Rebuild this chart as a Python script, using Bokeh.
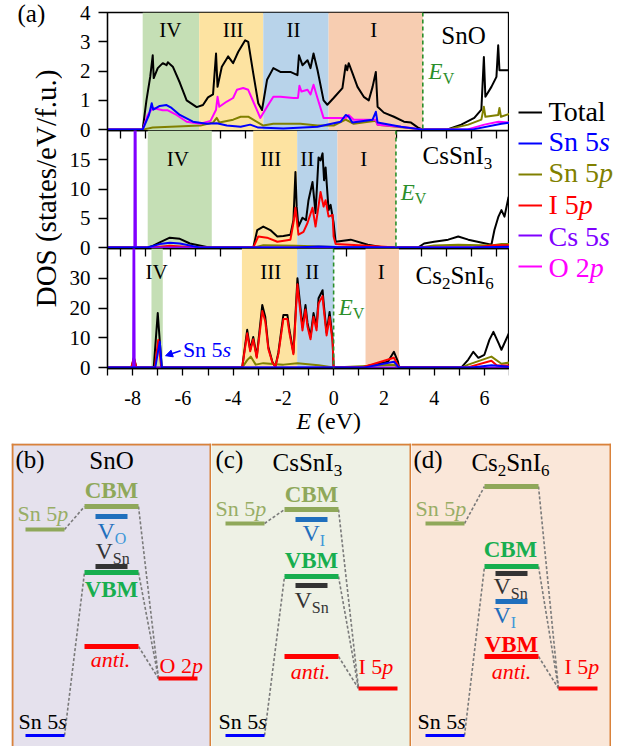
import math
from bokeh.plotting import figure
from bokeh.models import (Range1d, BoxAnnotation, Span, Label, Legend, LegendItem,
                          FixedTicker, Arrow, NormalHead, ColumnDataSource)
from bokeh.layouts import column, row
from bokeh.embed import file_html
from bokeh.resources import INLINE

FONT = "Liberation Serif"

# ======================= (a) DOS data =======================
# ---- SnO (states/eV/f.u.)
sno_total_e = [-9.0, -7.6, -7.45, -7.3, -7.2, -7.16, -7.0, -6.8, -6.65, -6.6,
               -6.4, -6.12, -5.85, -5.45, -5.2, -5.0, -4.8, -4.68, -4.62, -4.45,
               -4.2, -4.0, -3.8, -3.52, -3.4, -3.2, -3.0, -2.85, -2.65, -2.4,
               -2.12, -1.72, -1.44, -1.38, -1.24, -1.04, -0.92, -0.8, -0.64, -0.4,
               -0.25, 0.0, 0.35, 0.48, 0.54, 0.6, 0.75, 0.95, 1.2, 1.4,
               1.55, 1.68, 1.75, 2.0, 2.4, 2.8, 3.08, 3.36, 3.55, 4.5,
               5.08, 5.6, 5.88, 5.98, 6.04, 6.28, 6.48, 6.55, 6.6, 7.0]
sno_total = [0, 0, 1.0, 1.8, 2.54, 1.76, 2.1, 2.27, 2.2, 2.3,
             2.15, 1.6, 1.0, 0.77, 0.84, 1.1, 1.2, 2.6, 1.46, 2.15,
             2.5, 2.27, 2.65, 3.05, 3.0, 1.93, 0.9, 0.67, 1.7, 2.1,
             1.97, 1.97, 1.86, 2.54, 2.2, 2.37, 2.1, 2.6, 2.03, 1.0,
             0.85, 1.08, 1.42, 2.2, 2.03, 2.27, 1.93, 1.46, 1.12, 1.0,
             1.46, 1.97, 0.78, 0.58, 0.44, 0.27, 0.24, 0.07, 0, 0,
             0.17, 0.4, 0.68, 2.48, 1.12, 1.46, 1.8, 2.88, 2.03, 2.03]
sno_sn5s_e = [-9.0, -7.6, -7.35, -7.24, -7.18, -6.92, -6.65, -6.45, -6.12, -5.6,
              -5.05, -4.65, -4.25, -3.7, -3.32, -3.0, -2.0, -0.64, 0.28, 0.48,
              0.6, 0.75, 1.55, 1.68, 1.75, 2.68, 3.55, 5.5, 6.68, 7.0]
sno_sn5s = [0, 0, 0.5, 0.9, 0.68, 0.81, 0.84, 0.74, 0.5, 0.27,
            0.2, 0.22, 0.14, 0.1, 0.17, 0.07, 0.04, 0.1, 0.27, 0.5,
            0.44, 0.24, 0.34, 0.61, 0.24, 0.1, 0, 0, 0.2, 0.24]
sno_sn5p_e = [-9.0, -7.6, -7.2, -5.3, -4.8, -4.65, -4.55, -4.0, -3.7, -3.4,
              -3.2, -2.8, -2.4, -1.32, -0.64, 0.0, 0.48, 0.8, 1.68, 1.75,
              3.55, 4.5, 5.36, 5.88, 5.98, 6.04, 6.55, 6.6, 6.66, 7.0]
sno_sn5p = [0, 0, 0.07, 0.14, 0.24, 0.4, 0.24, 0.34, 0.44, 0.44,
            0.34, 0.14, 0.2, 0.2, 0.14, 0.14, 0.34, 0.2, 0.3, 0.17,
            0, 0, 0.17, 0.34, 0.78, 0.44, 0.5, 0.74, 0.44, 0.54]
sno_o2p_e = [-9.0, -7.6, -7.4, -7.2, -6.8, -6.6, -6.25, -5.85, -5.3, -4.9,
             -4.68, -4.62, -4.55, -4.25, -4.0, -3.85, -3.6, -3.4, -3.2, -2.92,
             -2.65, -2.4, -2.12, -1.6, -1.42, -1.36, -1.28, -1.04, -0.92, -0.8,
             -0.65, -0.4, 0.48, 0.6, 0.8, 1.68, 1.75, 2.68, 3.55, 5.3,
             6.0, 6.56, 7.0]
sno_o2p = [0, 0, 0.5, 0.74, 0.66, 0.66, 0.5, 0.27, 0.2, 0.3,
           0.68, 1.12, 0.78, 0.96, 1.08, 1.36, 1.42, 1.36, 0.96, 0.4,
           0.78, 1.12, 1.12, 1.08, 1.08, 1.5, 1.3, 1.36, 1.2, 1.53,
           1.1, 0.4, 0.4, 0.5, 0.34, 0.34, 0.17, 0.1, 0, 0,
           0.17, 0.27, 0.24]

# ---- CsSnI3
cssni3_total_e = [-9.0, -7.44, -7.2, -6.92, -6.52, -6.12, -5.72, -5.05, -4.8, -3.2,
                  -3.04, -2.8, -2.52, -2.24, -2.0, -1.72, -1.6, -1.52, -1.47, -1.4,
                  -1.24, -1.1, -1.0, -0.84, -0.72, -0.6, -0.52, -0.44, -0.38, -0.32,
                  -0.2, -0.12, 0.0, 0.08, 0.68, 1.36, 1.88, 2.48, 3.36, 3.6,
                  4.0, 4.56, 4.96, 5.36, 6.28, 6.4, 6.56, 6.68, 6.8, 6.96, 7.0]
cssni3_total = [0, 0, 0.3, 0.9, 1.7, 1.5, 0.7, 0.1, 0, 0,
                3.0, 3.6, 3.0, 1.9, 2.0, 2.2, 4.7, 12.9, 7.0, 3.6,
                5.1, 4.7, 8.1, 11.2, 5.9, 15.4, 14.9, 16.1, 11.5, 13.7,
                6.4, 7.3, 4.2, 1.0, 1.36, 0.5, 0.1, 0, 0, 0.7,
                1.0, 1.36, 1.9, 1.36, 0.5, 3.0, 5.3, 6.4, 5.3, 8.6, 7.0]
cssni3_i5p_e = [-9.0, -7.3, -6.52, -5.5, -3.2, -3.0, -2.65, -2.24, -1.72, -1.6,
                -1.52, -1.4, -1.2, -1.04, -0.84, -0.72, -0.52, -0.4, -0.32, -0.2,
                -0.04, 0.0, 0.08, 1.36, 2.48, 5.5, 6.4, 7.0]
cssni3_i5p = [0, 0, 0.3, 0, 0, 1.9, 1.7, 1.0, 1.36, 4.2,
              6.8, 2.2, 2.7, 4.2, 6.8, 3.6, 9.5, 7.0, 8.1, 5.3,
              5.6, 1.9, 0.6, 0.3, 0, 0, 0.4, 0.4]
cssni3_sn5s_e = [-9.0, -7.44, -6.92, -6.52, -6.12, -5.3, -1.5, -0.6, 0.08, 2.48, 5.5, 7.0]
cssni3_sn5s = [0, 0, 0.6, 0.85, 0.7, 0, 0, 0.2, 0.1, 0, 0, 0.15]
cssni3_sn5p_e = [-9.0, -3.2, -2.8, -1.5, 0.08, 2.48, 3.36, 4.0, 4.96, 6.28, 6.68, 7.0]
cssni3_sn5p = [0, 0, 0.4, 0.3, 0.1, 0, 0, 0.35, 0.5, 0.35, 0.6, 0.6]
cssni3_cs5s_e = [-9.0, -7.93, -7.9, -7.87, 7.0]
cssni3_cs5s = [0, 0, 60, 0, 0]

# ---- Cs2SnI6
cs2sni6_total_e = [-9.0, -8.05, -7.95, -7.85, -7.16, -7.0, -6.92, -6.84, -3.64, -3.44,
                   -3.32, -3.2, -3.06, -2.84, -2.72, -2.6, -2.44, -2.32, -2.2, -2.0,
                   -1.84, -1.76, -1.6, -1.44, -1.38, -1.24, -1.12, -1.04, -0.92, -0.8,
                   -0.68, -0.6, -0.44, -0.4, -0.28, -0.16, -0.04, 0.0, 1.2, 2.16,
                   2.4, 2.56, 2.6, 5.08, 5.36, 5.56, 5.76, 6.0, 6.2, 6.36,
                   6.56, 6.68, 7.0]
cs2sni6_total = [0, 0, 3.3, 0, 0, 18.3, 9.0, 0, 0, 12.7,
                 6.0, 10.3, 3.7, 21.0, 17.0, 7.0, 2.0, 0.3, 5.0, 17.7,
                 17.7, 12.7, 5.0, 30.0, 25.0, 13.7, 21.0, 15.0, 10.3, 18.3,
                 13.7, 23.3, 26.0, 22.0, 11.7, 18.7, 9.3, 0, 0.3, 2.0,
                 5.3, 2.0, 0.3, 0, 2.7, 5.3, 3.3, 4.3, 9.3, 12.0,
                 8.3, 6.0, 12.0]
cs2sni6_i5p_e = [-9.0, -8.05, -7.95, -7.85, -7.12, -6.98, -6.86, -3.64, -3.44, -3.32,
                 -3.2, -3.06, -2.84, -2.72, -2.6, -2.44, -2.32, -2.2, -2.0, -1.84,
                 -1.76, -1.6, -1.44, -1.38, -1.24, -1.12, -1.04, -0.92, -0.8, -0.68,
                 -0.6, -0.44, -0.4, -0.28, -0.16, -0.04, 0.0, 1.2, 2.4, 2.6,
                 5.3, 6.28, 6.5, 7.0]
cs2sni6_i5p = [0, 0, 3.3, 0, 0, 9.3, 0, 0, 11.5, 5.5,
               9.5, 3.3, 19.0, 15.5, 6.3, 1.8, 0.3, 4.5, 16.3, 16.3,
               11.7, 4.5, 28.0, 23.0, 12.5, 19.5, 13.8, 9.5, 17.0, 12.5,
               21.5, 24.0, 20.3, 10.8, 17.0, 8.5, 0, 0.2, 3.3, 0.2,
               0, 2.3, 0.7, 0.7]
cs2sni6_sn5s_e = [-9.0, -7.1, -6.92, -6.84, -3.0, 1.2, 2.4, 2.6, 5.5, 6.28, 7.0]
cs2sni6_sn5s = [0, 0, 8.7, 0, 0, 0, 2.0, 0, 0, 0.8, 0.3]
cs2sni6_sn5p_e = [-9.0, -3.64, -3.44, -3.3, -3.1, -2.8, -2.0, -1.44, -0.6, 0.0,
                  2.4, 2.6, 5.08, 5.36, 6.28, 6.68, 7.0]
cs2sni6_sn5p = [0, 0, 2.5, 3.7, 1.0, 1.5, 1.0, 1.5, 0.8, 0,
                1.0, 0, 0, 1.0, 3.7, 1.3, 1.7]
cs2sni6_cs5s_e = [-9.0, -7.98, -7.95, -7.92, 7.0]
cs2sni6_cs5s = [0, 0, 80, 0, 0]

# ---- energy regions IV, III, II, I and valence band maximum E_V (eV)
region_names = ["IV", "III", "II", "I"]
sno_reg_lo = [-7.6, -5.35, -2.8, -0.2]
sno_reg_hi = [-5.35, -2.8, -0.2, 3.55]
cssni3_reg_lo = [-7.4, -3.2, -1.45, 0.15]
cssni3_reg_hi = [-4.85, -1.45, 0.15, 2.48]
cs2sni6_reg_lo = [-7.25, -3.65, -1.45, 1.27]
cs2sni6_reg_hi = [-6.8, -1.45, 0.0, 2.6]
ev_sno, ev_cssni3, ev_cs2sni6 = 3.55, 2.48, 0.0

# legend entries: (upright part, italic orbital letter)
series_label_main = ["Total", "Sn 5", "Sn 5", "I 5", "Cs 5", "O 2"]
series_label_ital = ["", "s", "p", "p", "s", "p"]

# ======================= (b)-(d) energy level diagrams (arb. units) =======================
b_names = ["Sn5p", "CBM", "V_O", "V_Sn", "VBM", "anti", "O2p", "Sn5s"]
b_energy = [217, 240, 230, 180, 174, 100, 68, 11]
b_column = ["left", "mid", "defect", "defect", "mid", "mid", "right", "left"]
b_links = [("Sn5p", "CBM"), ("CBM", "O2p"), ("VBM", "O2p"), ("anti", "O2p"), ("Sn5s", "VBM")]

c_names = ["Sn5p", "CBM", "V_I", "VBM", "V_Sn", "anti", "I5p", "Sn5s"]
c_energy = [223, 237, 227, 170, 161, 90, 58, 11]
c_column = ["left", "mid", "defect", "mid", "defect", "mid", "right", "left"]
c_links = [("Sn5p", "CBM"), ("CBM", "I5p"), ("VBM", "I5p"), ("anti", "I5p"), ("Sn5s", "VBM")]

d_names = ["Sn5p", "antiSn5p", "CBM", "V_Sn", "V_I", "VBM", "I5p", "Sn5s"]
d_energy = [223, 260, 180, 173, 145, 90, 58, 11]
d_column = ["left", "mid", "mid", "defect", "defect", "mid", "right", "left"]
d_links = [("Sn5p", "antiSn5p"), ("antiSn5p", "I5p"), ("CBM", "I5p"), ("VBM", "I5p"), ("Sn5s", "CBM")]

# ======================= styles =======================
C_TOTAL, C_SN5S, C_SN5P, C_I5P, C_CS5S, C_O2P = "#000000", "#0000ff", "#808000", "#ff0000", "#8000ff", "#ff00ff"
SERIES_COLORS = [C_TOTAL, C_SN5S, C_SN5P, C_I5P, C_CS5S, C_O2P]
REG_COLORS = ["#c5dfb5", "#fde3a1", "#b8d3ea", "#f7cdb1"]
EV_GREEN = "#2b8f2b"
G_SN5P = "#8fa85a"
G_SN5P_TXT = "#98ad66"
G_VBM = "#17ae4f"
B_DEF = "#1f6fbd"
B_DEF2 = "#3d97d8"
K_DEF = "#333333"
LEVEL_COLOR = {"Sn5p": G_SN5P, "CBM": G_SN5P, "antiSn5p": G_SN5P, "VBM": G_VBM, "V_O": B_DEF,
               "V_I": B_DEF, "V_Sn": K_DEF, "anti": C_I5P, "O2p": C_I5P, "I5p": C_I5P, "Sn5s": C_SN5S}
D_LEVEL_COLOR = dict(LEVEL_COLOR, CBM=G_VBM, VBM=C_I5P)
COLX = {"left": (14, 53), "mid": (73, 127), "defect": (84, 116), "right": (147, 186)}
COLW = {"left": 4, "mid": 5, "defect": 5, "right": 4}

W_REG = {' ': .25, '(': .333, ')': .333, '.': .25, '/': .278, 'B': .667, 'C': .667, 'D': .722,
         'E': .611, 'I': .333, 'M': .889, 'O': .722, 'S': .556, 'T': .611, 'V': .722,
         'a': .444, 'b': .5, 'c': .444, 'd': .5, 'e': .444, 'f': .333, 'i': .278, 'l': .278,
         'n': .5, 'o': .5, 'p': .5, 's': .389, 't': .278, 'u': .5}
W_BOLD = {'B': .667, 'C': .722, 'M': .944, 'V': .722}
W_ITAL = {'E': .611, 'p': .5, 's': .389, 'a': .5, 'n': .5, 't': .278, 'i': .278, '.': .25}
BASE_SHIFT = 0.33   # alphabetic baseline correction, in em


def tw(s, size, style):
    tab = W_BOLD if style == "bold" else (W_ITAL if style == "italic" else W_REG)
    return sum(tab.get(ch, W_REG.get(ch, 0.5)) for ch in s) * size


def rich(p, x, y, segs, align="left"):
    """segs: (text, size, style, color, dy_down_px); y is the text baseline"""
    total = sum(tw(t, sz, st) for t, sz, st, c, dy in segs)
    off = -total / 2.0 if align == "center" else 0.0
    for t, sz, st, c, dy in segs:
        lead = len(t) - len(t.lstrip(" "))
        off += lead * W_REG[' '] * sz
        t2 = t.lstrip(" ")
        if t2:
            p.add_layout(Label(x=x, y=y, x_offset=off, y_offset=-dy + BASE_SHIFT * sz, text=t2,
                               text_font=FONT, text_font_size=f"{sz}px", text_font_style=st,
                               text_color=c, text_align="left", text_baseline="alphabetic"))
        off += tw(t2, sz, st)


for a, b in [(sno_total_e, sno_total), (sno_sn5s_e, sno_sn5s), (sno_sn5p_e, sno_sn5p), (sno_o2p_e, sno_o2p),
             (cssni3_total_e, cssni3_total), (cssni3_i5p_e, cssni3_i5p), (cssni3_sn5s_e, cssni3_sn5s),
             (cssni3_sn5p_e, cssni3_sn5p), (cs2sni6_total_e, cs2sni6_total), (cs2sni6_i5p_e, cs2sni6_i5p),
             (cs2sni6_sn5s_e, cs2sni6_sn5s), (cs2sni6_sn5p_e, cs2sni6_sn5p)]:
    assert len(a) == len(b)

# ======================= top DOS panels =======================
xr = Range1d(-9, 7)
HALF_TICKS = [v + 0.5 for v in range(-9, 7)]
OV = 15   # overlap (px) of a panel's bottom border with the next panel


def dos_fig(height, top, bottom, ystart, yend, yticks, transparent):
    p = figure(width=447, height=height, x_range=xr, y_range=Range1d(ystart, yend),
               min_border_left=45, min_border_right=0, min_border_top=top, min_border_bottom=bottom,
               toolbar_location=None, output_backend="svg",
               x_axis_location="below", y_axis_location="left")
    p.grid.visible = False
    p.outline_line_color = "black"
    p.outline_line_width = 1.3
    if transparent:
        p.border_fill_alpha = 0
        p.background_fill_alpha = 0
    else:
        p.border_fill_color = "white"
    ya = p.yaxis[0]
    ya.ticker = FixedTicker(ticks=yticks)
    ya.major_tick_out = 9
    ya.major_tick_in = 0
    ya.minor_tick_out = 0
    ya.minor_tick_in = 0
    ya.major_label_standoff = 8
    ya.major_label_text_font = FONT
    ya.major_label_text_font_size = "21px"
    ya.major_label_text_color = "black"
    ya.axis_line_width = 1.3
    ya.major_tick_line_width = 1.3
    return p


def hanging_ticks(p):
    ax = p.below[0]
    ax.ticker = FixedTicker(ticks=HALF_TICKS)
    ax.major_tick_out = 8
    ax.major_tick_in = 0
    ax.minor_tick_out = 0
    ax.minor_tick_in = 0
    ax.major_label_text_font_size = "1px"
    ax.major_label_text_color = None
    ax.major_label_standoff = 0
    ax.axis_line_color = None
    ax.major_tick_line_width = 1.3


def regions(p, lo, hi, xs, y):
    for l, h, c, nm, xx in zip(lo, hi, REG_COLORS, region_names, xs):
        p.add_layout(BoxAnnotation(left=l, right=h, fill_color=c, fill_alpha=1.0,
                                   line_color=None, level="underlay"))
        p.add_layout(Label(x=xx, y=y, y_offset=BASE_SHIFT * 21, text=nm, text_font=FONT,
                           text_font_size="21px", text_align="center", text_baseline="alphabetic",
                           text_color="black"))


def ev_mark(p, ev, lx, ly):
    p.add_layout(Span(location=ev, dimension="height", line_color=EV_GREEN, line_width=1.6,
                      line_dash="4 3"))
    rich(p, lx, ly, [("E", 23, "italic", EV_GREEN, 0), ("V", 16, "normal", EV_GREEN, 4)])


def curve(p, e, v, color):
    return p.line(e, v, line_color=color, line_width=2, line_join="round")


# ---- panel 1: SnO
p1 = dos_fig(130 + OV, 12, OV, -0.03, 4, [0, 1, 2, 3, 4], False)
p1.margin = (0, 0, -OV, 0)
hanging_ticks(p1)
regions(p1, sno_reg_lo, sno_reg_hi, [-6.5, -4.0, -1.6, 1.6], 3.15)
ev_mark(p1, ev_sno, 3.78, 1.71)
curve(p1, sno_total_e, sno_total, C_TOTAL)
curve(p1, sno_sn5p_e, sno_sn5p, C_SN5P)
curve(p1, sno_o2p_e, sno_o2p, C_O2P)
curve(p1, sno_sn5s_e, sno_sn5s, C_SN5S)
rich(p1, 5.17, 2.92, [("SnO", 25, "normal", "black", 0)], align="center")

# ---- panel 2: CsSnI3
p2 = dos_fig(118 + OV, 0, OV, -0.15, 20, [0, 5, 10, 15], True)
p2.margin = (0, 0, -OV, 0)
hanging_ticks(p2)
regions(p2, cssni3_reg_lo, cssni3_reg_hi, [-6.2, -2.5, -1.05, 1.2], 13.9)
ev_mark(p2, ev_cssni3, 2.67, 8.2)
curve(p2, cssni3_total_e, cssni3_total, C_TOTAL)
curve(p2, cssni3_sn5p_e, cssni3_sn5p, C_SN5P)
curve(p2, cssni3_i5p_e, cssni3_i5p, C_I5P)
curve(p2, cssni3_cs5s_e, cssni3_cs5s, C_CS5S)
curve(p2, cssni3_sn5s_e, cssni3_sn5s, C_SN5S)
rich(p2, 3.54, 14.4, [("CsSnI", 25, "normal", "black", 0), ("3", 17, "normal", "black", 6)])

# ---- panel 3: Cs2SnI6
p3 = dos_fig(168, 0, 48, -0.3, 40, [0, 10, 20, 30], True)
p3.margin = (0, 0, -13, 0)
regions(p3, cs2sni6_reg_lo, cs2sni6_reg_hi, [-7.05, -2.5, -0.85, 1.9], 29.7)
ev_mark(p3, ev_cs2sni6, 0.2, 17.8)
curve(p3, cs2sni6_total_e, cs2sni6_total, C_TOTAL)
curve(p3, cs2sni6_sn5p_e, cs2sni6_sn5p, C_SN5P)
curve(p3, cs2sni6_i5p_e, cs2sni6_i5p, C_I5P)
curve(p3, cs2sni6_cs5s_e, cs2sni6_cs5s, C_CS5S)
curve(p3, cs2sni6_sn5s_e, cs2sni6_sn5s, C_SN5S)
rich(p3, 3.26, 28.3, [("Cs", 25, "normal", "black", 0), ("2", 17, "normal", "black", 6),
                      ("SnI", 25, "normal", "black", 0), ("6", 17, "normal", "black", 6)])
rich(p3, -6.0, 3.7, [("Sn 5", 22, "normal", C_SN5S, 0), ("s", 22, "italic", C_SN5S, 0)])
p3.add_layout(Arrow(end=NormalHead(size=7, fill_color=C_SN5S, line_color=C_SN5S),
                    x_start=-6.09, y_start=5.67, x_end=-6.69, y_end=4.0,
                    line_color=C_SN5S, line_width=1.5))
xa = p3.below[0]
xa.ticker = FixedTicker(ticks=list(range(-9, 8)))
xa.major_label_overrides = {v: (str(v) if (v % 2 == 0 and -8 <= v <= 6) else "") for v in range(-9, 8)}
xa.major_tick_out = 7
xa.major_tick_in = 0
xa.minor_tick_out = 0
xa.minor_tick_in = 0
xa.major_label_standoff = 15
xa.major_label_text_font = FONT
xa.major_label_text_font_size = "20px"
xa.major_label_text_color = "black"
xa.axis_line_width = 1.3
xa.major_tick_line_width = 1.3

# ---- x-axis title strip (overlaps the bottom border of panel 3, transparent)
xlab = figure(width=447, height=40, x_range=Range1d(0, 447), y_range=Range1d(0, 40),
              min_border=0, toolbar_location=None, output_backend="svg",
              x_axis_location=None, y_axis_location=None)
xlab.grid.visible = False
xlab.outline_line_color = None
xlab.background_fill_alpha = 0
xlab.border_fill_alpha = 0
rich(xlab, 246, 15, [("E", 24, "italic", "black", 0), (" (eV)", 24, "normal", "black", 0)], align="center")

# ---- y label strip
lab = figure(width=62, height=443, x_range=Range1d(0, 62), y_range=Range1d(0, 443),
             min_border=0, toolbar_location=None, output_backend="svg",
             x_axis_location=None, y_axis_location=None)
lab.grid.visible = False
lab.outline_line_color = None
rich(lab, 17, 422, [("(a)", 25, "normal", "black", 0)])
lab.add_layout(Label(x=45, y=255, text="DOS (states/eV/f.u.)", angle=math.pi / 2,
                     text_font=FONT, text_font_size="29px", text_align="center",
                     text_baseline="middle", text_color="black"))

# ---- legend strip (keys for the curves of all three panels)
legf = figure(width=119, height=443, x_range=Range1d(0, 119), y_range=Range1d(0, 443),
              min_border=0, toolbar_location=None, output_backend="svg",
              x_axis_location=None, y_axis_location=None)
legf.grid.visible = False
legf.outline_line_color = None
key_bottoms = [317, 286, 255, 224, 194, 163]
text_baselines = [323, 293, 262, 230, 198, 167]
NAN = float("nan")
for main, ital, col, yb, tb in zip(series_label_main, series_label_ital, SERIES_COLORS,
                                   key_bottoms, text_baselines):
    key = legf.line([NAN], [NAN], line_color=col, line_width=2)
    legf.add_layout(Legend(items=[LegendItem(label="", renderers=[key])], location=(9, yb),
                           glyph_width=24, glyph_height=28, label_height=28, label_width=0,
                           label_standoff=0, padding=0, margin=0, spacing=0,
                           border_line_color=None, background_fill_alpha=0))
    rich(legf, 39, tb, [(main, 28, "normal", col, 0), (ital, 28, "italic", col, 0)])

top = row(lab, column(p1, p2, p3, xlab), legf)


# ======================= bottom level diagrams =======================
def level_fig(width, bleft, bg, names, energy, cols, links, left_border, cmap):
    p = figure(width=width, height=303, x_range=Range1d(0, 200), y_range=Range1d(0, 303),
               min_border_left=bleft, min_border_right=0, min_border_top=0, min_border_bottom=0,
               toolbar_location=None, output_backend="svg", x_axis_location=None, y_axis_location=None)
    p.grid.visible = False
    p.background_fill_color = bg
    p.border_fill_color = "white"
    p.outline_line_color = None
    idx = {n: i for i, n in enumerate(names)}
    lk = ColumnDataSource(dict(
        x0=[COLX[cols[idx[a]]][1] for a, b in links], y0=[energy[idx[a]] for a, b in links],
        x1=[COLX[cols[idx[b]]][0] for a, b in links], y1=[energy[idx[b]] for a, b in links]))
    p.segment("x0", "y0", "x1", "y1", source=lk, line_color="#7a7a7a", line_width=1.6, line_dash="3 2")
    lv = ColumnDataSource(dict(
        x0=[COLX[c][0] for c in cols], x1=[COLX[c][1] for c in cols], y=energy,
        color=[cmap[n] for n in names],
        w=[(3 if n == "Sn5s" else COLW[c]) for n, c in zip(names, cols)]))
    p.segment("x0", "y", "x1", "y", source=lv, line_color="color", line_width="w")
    orange = "#d9823b"
    if left_border:
        p.add_layout(Span(location=1, dimension="height", line_color=orange, line_width=2))
    p.add_layout(Span(location=199, dimension="height", line_color=orange, line_width=2))
    p.add_layout(Span(location=302, dimension="width", line_color=orange, line_width=2))
    return p


def sn5p(p, x, y):
    rich(p, x, y, [("Sn 5", 22, "normal", G_SN5P_TXT, 0), ("p", 22, "italic", G_SN5P_TXT, 0)])


def sn5s(p, x, y):
    rich(p, x, y, [("Sn 5", 22, "normal", "black", 0), ("s", 22, "italic", "black", 0)])


def vdef(p, x, y, sub, color, color2):
    rich(p, x, y, [("V", 24, "normal", color, 0), (sub, 16, "normal", color2, 5)])


pb = level_fig(211, 11, "#e5e1ed", b_names, b_energy, b_column, b_links, True, LEVEL_COLOR)
rich(pb, 4, 279, [("(b)", 25, "normal", "black", 0)])
rich(pb, 100, 278, [("SnO", 25, "normal", "black", 0)], align="center")
rich(pb, 100, 248, [("CBM", 23, "bold", G_SN5P, 0)], align="center")
sn5p(pb, 6, 226)
vdef(pb, 86, 208, "O", B_DEF, B_DEF2)
vdef(pb, 84, 188, "Sn", K_DEF, K_DEF)
rich(pb, 100, 149, [("VBM", 23, "bold", G_VBM, 0)], align="center")
rich(pb, 99, 80, [("anti.", 22, "italic", C_I5P, 0)], align="center")
rich(pb, 148, 74, [("O 2", 22, "normal", C_I5P, 0), ("p", 22, "italic", C_I5P, 0)])
sn5s(pb, 7, 18)

pc = level_fig(200, 0, "#eef1e5", c_names, c_energy, c_column, c_links, False, LEVEL_COLOR)
rich(pc, 4, 279, [("(c)", 25, "normal", "black", 0)])
rich(pc, 61, 276, [("CsSnI", 25, "normal", "black", 0), ("3", 17, "normal", "black", 6)])
sn5p(pc, 4, 231)
rich(pc, 100, 244, [("CBM", 23, "bold", G_SN5P, 0)], align="center")
vdef(pc, 91, 206, "I", B_DEF, B_DEF2)
rich(pc, 100, 178, [("VBM", 23, "bold", G_VBM, 0)], align="center")
vdef(pc, 83, 139, "Sn", K_DEF, K_DEF)
rich(pc, 99, 68, [("anti.", 22, "italic", C_I5P, 0)], align="center")
rich(pc, 147, 73, [("I 5", 22, "normal", C_I5P, 0), ("p", 22, "italic", C_I5P, 0)])
sn5s(pc, 7, 18)

pd = level_fig(200, 0, "#fae7d9", d_names, d_energy, d_column, d_links, False, D_LEVEL_COLOR)
rich(pd, 2, 279, [("(d)", 25, "normal", "black", 0)])
rich(pd, 99, 276, [("Cs", 25, "normal", "black", 0), ("2", 17, "normal", "black", 6),
                   ("SnI", 25, "normal", "black", 0), ("6", 17, "normal", "black", 6)], align="center")
sn5p(pd, 4, 231)
rich(pd, 99, 189, [("CBM", 23, "bold", G_VBM, 0)], align="center")
vdef(pd, 82, 153, "Sn", K_DEF, K_DEF)
vdef(pd, 82, 124, "I", B_DEF, B_DEF2)
rich(pd, 100, 94, [("VBM", 23, "bold", C_I5P, 0)], align="center")
rich(pd, 100, 68, [("anti.", 22, "italic", C_I5P, 0)], align="center")
rich(pd, 153, 73, [("I 5", 22, "normal", C_I5P, 0), ("p", 22, "italic", C_I5P, 0)])
sn5s(pd, 6, 18)

bottom = row(pb, pc, pd)
layout = column(top, bottom)

with open("out.html", "w") as f:
    f.write(file_html(layout, INLINE))
